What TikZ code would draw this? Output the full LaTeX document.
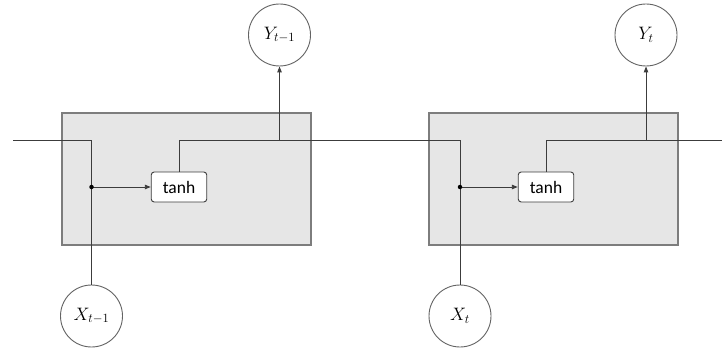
\RequirePackage{fix-cm}
\documentclass[tikz,border=0pt]{standalone}
\usepackage{fontspec}
\setsansfont{Carlito}
\usetikzlibrary{arrows.meta}
\definecolor{boxfill}{RGB}{230,230,230}
\definecolor{boxline}{RGB}{125,125,125}
\definecolor{wire}{RGB}{60,60,60}
\tikzset{
  cell/.style={draw=boxline, fill=boxfill, line width=1.1pt},
  wireline/.style={draw=wire, line width=0.9pt},
  arr/.style={wireline, -{Triangle[length=6pt,width=4.5pt]}},
  func/.style={draw=wire, fill=white, rounded corners=3pt, line width=0.9pt,
    minimum width=55.5pt, minimum height=30pt, inner sep=0pt,
    font=\sffamily\fontsize{17.5}{20}\selectfont},
  var/.style={circle, draw=wire!80, fill=white, line width=0.9pt,
    minimum size=62pt, inner sep=0pt, font=\fontsize{18}{21}\selectfont},
  jdot/.style={circle, fill=black, inner sep=0pt, minimum size=4.5pt}
}
\begin{document}
\begin{tikzpicture}[x=1pt,y=-1pt]
\useasboundingbox (0,0) rectangle (722,350);
% cells
\draw[cell] (62,113) rectangle (311,245);
\draw[cell] (429,113) rectangle (678,245);
% nodes
\node[func] (t1) at (179,187) {tanh};
\node[func] (t2) at (546,187) {tanh};
\node[var] (Y1) at (279.5,35) {$Y_{t-1}$};
\node[var] (Y2) at (646,35) {$Y_t$};
\node[var] (X1) at (91.5,316) {$X_{t-1}$};
\node[var] (X2) at (460,316) {$X_t$};
% coordinates
\coordinate (inL) at (13,140);
\coordinate (outR) at (722,140);
\coordinate (j1) at (91.5,187);
\coordinate (j2) at (460,187);
\coordinate (o1) at (279.5,140);
\coordinate (o2) at (646,140);
\coordinate (h1) at (460,140);
% wires
\draw[wireline] (inL) -| (X1.north);
\draw[wireline] (t1.north) |- (h1) -- (X2.north);
\draw[wireline] (t2.north) |- (outR);
\draw[arr] (j1) -- (t1.west);
\draw[arr] (j2) -- (t2.west);
\draw[arr] (o1) -- (Y1.south);
\draw[arr] (o2) -- (Y2.south);
\node[jdot] (d1) at (j1) {};
\node[jdot] (d2) at (j2) {};
\end{tikzpicture}
\end{document}
